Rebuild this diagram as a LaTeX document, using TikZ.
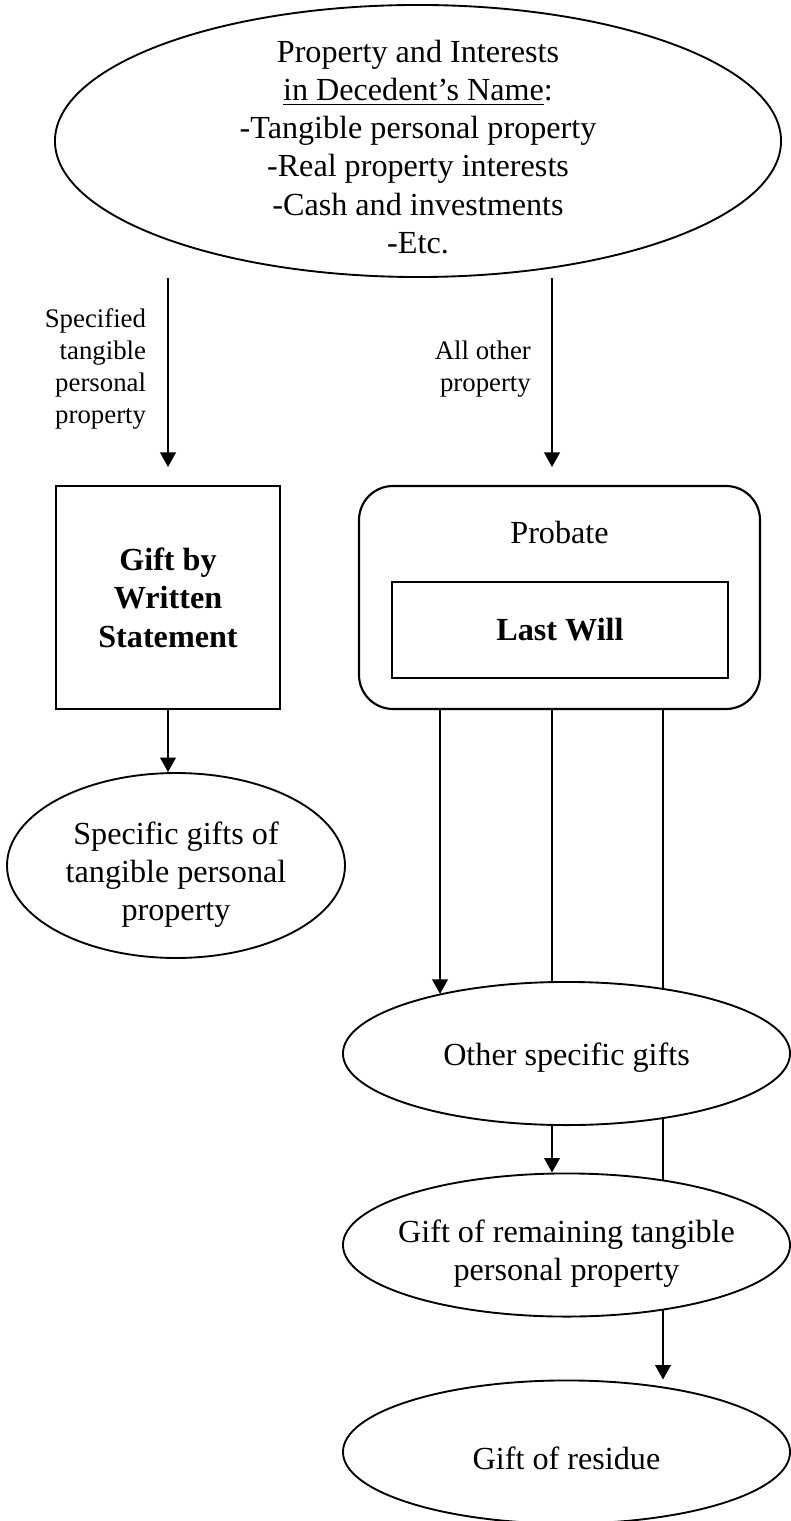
\documentclass[tikz,border=0pt]{standalone}
\usepackage{fontspec}
\setmainfont{Liberation Serif}
\usetikzlibrary{arrows.meta,shapes.geometric,backgrounds}

\tikzset{
  oval/.style={draw, ellipse, fill=white, line width=0.7pt, inner sep=0pt},
  box/.style={draw, rectangle, fill=white, line width=0.8pt, inner sep=0pt, align=center},
  txt/.style={align=center, inner sep=0pt, font=\fontsize{12}{14.2}\selectfont},
  boldtxt/.style={font=\fontsize{12}{14.4}\selectfont\bfseries},
  lbl/.style={align=right, inner sep=0pt, font=\fontsize{10}{12}\selectfont},
  arr/.style={line width=0.8pt, -{Triangle[length=5.4pt,width=5.8pt]}}
}

\begin{document}
\begin{tikzpicture}[x=0.3731pt, y=-0.3731pt]
\useasboundingbox (0,0) rectangle (791,1521);

\node[oval, minimum width=270.9pt, minimum height=101.5pt] (estate) at (418,141) {};
\node[txt] (estatetxt) at (418,147) {Property and Interests\\ \underline{in Decedent’s Name}:\\ -Tangible personal property\\ -Real property interests\\ -Cash and investments\\ -Etc.};

\node[box, boldtxt, minimum width=83.6pt, minimum height=83.2pt] (written) at (168,597.5) {Gift by\\ Written\\ Statement};
\node[oval, minimum width=126.1pt, minimum height=69pt] (specific) at (176,865.5) {};
\node[txt] (specifictxt) at (176,875) {Specific gifts of\\ tangible personal\\ property};

\node[box, rounded corners=12.7pt, minimum width=149.6pt, minimum height=83.2pt] (probate) at (559.5,597.5) {};
\node[txt] (probatetxt) at (559.5,532) {Probate};
\node[box, boldtxt, minimum width=125.4pt, minimum height=35.8pt] (will) at (560,630) {Last Will};

\node[oval, minimum width=166.8pt, minimum height=53.4pt] (other) at (566.5,1053.5) {};
\node[txt] (othertxt) at (566.5,1058) {Other specific gifts};
\node[oval, minimum width=166.8pt, minimum height=53.4pt] (remaining) at (566.5,1245) {};
\node[txt] (remainingtxt) at (566.5,1254) {Gift of remaining tangible\\ personal property};
\node[oval, minimum width=166.8pt, minimum height=53.4pt] (residue) at (566.5,1452) {};
\node[txt] (residuetxt) at (566.5,1458) {Gift of residue};

% drop lines under the probate box
\coordinate (d1) at (440,0);
\coordinate (d2) at (552,0);
\coordinate (d3) at (663,0);

\draw[arr, shorten >=6.7pt] (estate.south -| written) -- node[lbl, pos=.44, left=7.8pt] (speclbl) {Specified\\ tangible\\ personal\\ property} (written.north);
\draw[arr, shorten >=6.7pt] (estate.south -| d2) -- node[lbl, pos=.44, left=7.5pt] (otherlbl) {All other\\ property} (probate.north -| d2);
\draw[arr] (written.south) -- (written.south |- specific.north);

\begin{scope}[on background layer]
\draw[arr] (probate.south -| d1) -- (d1 |- other.155);
\draw[arr] (probate.south -| d2) -- (d2 |- remaining.north);
\draw[arr] (probate.south -| d3) -- (d3 |- residue.north);
\end{scope}
\end{tikzpicture}
\end{document}
